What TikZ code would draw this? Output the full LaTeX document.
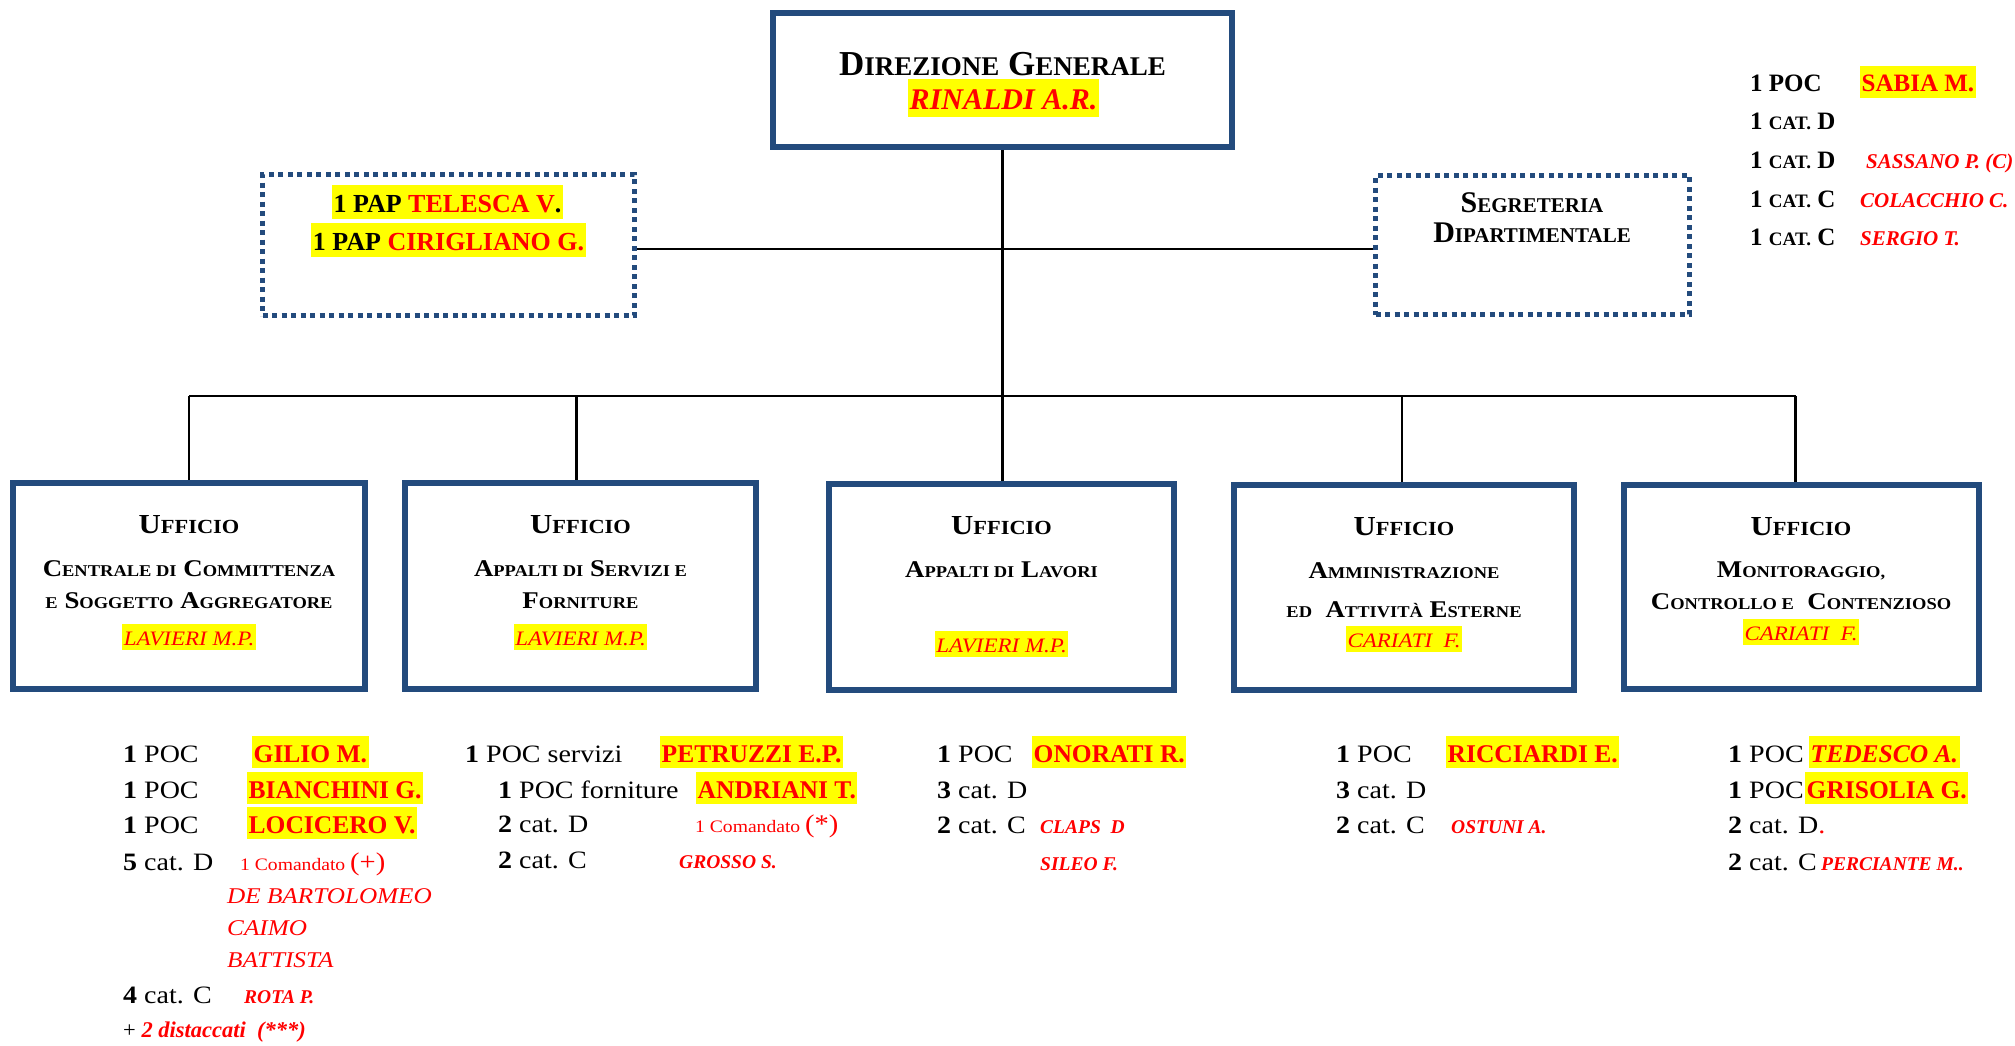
\documentclass[tikz,border=0pt]{standalone}
\usepackage{fontspec}
\usepackage{graphicx}
\setmainfont{Liberation Serif}
\newfontfamily\pal[FakeStretch=1.12]{Liberation Serif}
\definecolor{bord}{RGB}{35,75,125}
\definecolor{hly}{RGB}{255,255,0}
\definecolor{redc}{RGB}{255,0,0}
\pgfdeclarelayer{bgl}
\pgfsetlayers{bgl,main}
\newcommand\hl[1]{{\setlength\fboxsep{0pt}\colorbox{hly}{\kern1.5pt\rule[-0.25em]{0pt}{1.28em}#1\kern1.5pt}}}
\newcommand\rd[1]{\textcolor{redc}{#1}}
\newcommand\fsz[1]{\fontsize{#1}{#1}\selectfont}
\newcommand\smsz{16}
\newcommand\smc[1]{{\fontsize{\smsz}{\smsz}\selectfont #1}}
\newcommand\uff{{\renewcommand\smsz{20}\fsz{27.5}\pal\bfseries U\smc{FFICIO}}}
\newcommand\bodysc{\renewcommand\smsz{16.5}\fsz{24}\pal\bfseries}
\newcommand\li{\fsz{25}\pal}
\newcommand\nmb{\fsz{25.5}\bfseries}
\newcommand\nmi{\fsz{19.5}\bfseries\itshape}
\newcommand\catsc{\renewcommand\smsz{19}\fsz{25}\bfseries}
\begin{document}
\begin{tikzpicture}[x=1pt,y=-1pt,
  obox/.style={draw=bord,line width=6pt,rectangle,inner sep=0pt},
  dbox/.style={draw=bord,line width=5.5pt,dash pattern=on 5pt off 4.5pt,rectangle,inner sep=0pt},
  conn/.style={draw=black,line width=2.2pt},
  tc/.style={inner sep=0pt,anchor=base},
  tl/.style={inner sep=0pt,anchor=base west}]
\begin{pgfonlayer}{bgl}
\fill[white] (0,0) rectangle (2015,1046);
\end{pgfonlayer}
\useasboundingbox (0,0) rectangle (2015,1046);

% boxes
\node[obox,minimum width=459pt,minimum height=134pt] (dg) at (1002.5,80) {};
\node[dbox,minimum width=372pt,minimum height=141pt] (pap) at (448.5,245) {};
\node[dbox,minimum width=314pt,minimum height=139pt] (seg) at (1532.5,245) {};
\node[obox,minimum width=352pt,minimum height=206pt] (u1) at (189,586) {};
\node[obox,minimum width=351pt,minimum height=206pt] (u2) at (580.5,586) {};
\node[obox,minimum width=345pt,minimum height=206pt] (u3) at (1001.5,587) {};
\node[obox,minimum width=340pt,minimum height=205pt] (u4) at (1404,587.5) {};
\node[obox,minimum width=355pt,minimum height=204pt] (u5) at (1801.5,587) {};

% connectors
\coordinate (sideY) at (0,249);
\coordinate (busY) at (0,396);
\begin{pgfonlayer}{bgl}
\draw[conn] (dg.south) -- (dg.south |- u3.north);
\draw[conn] (pap.east |- sideY) -- (seg.west |- sideY);
\draw[conn] (u1.north |- busY) -- ([xshift=-6pt]u5.north |- busY);
\draw[conn] (u1.north |- busY) -- (u1.north);
\draw[conn] ([xshift=-4pt]u2.north |- busY) -- ([xshift=-4pt]u2.north);
\draw[conn] ([xshift=-2pt]u4.north |- busY) -- ([xshift=-2pt]u4.north);
\draw[conn] ([xshift=-6pt]u5.north |- busY) -- ([xshift=-6pt]u5.north);
\end{pgfonlayer}

% top box
\node[tc] (dgT) at (1002.5,76) {\renewcommand\smsz{27}\fsz{35}\bfseries D\smc{IREZIONE} G\smc{ENERALE}};
\node[tc] (dgN) at (1003.5,110) {\fsz{30}\bfseries\itshape\hl{\rd{RINALDI A.R.}}};

% PAP box
\node[tc] (pap1) at (447.5,212) {\fsz{26}\bfseries\hl{1 PAP \rd{TELESCA V}.}};
\node[tc] (pap2) at (448.5,250) {\fsz{26}\bfseries\hl{1 PAP \rd{CIRIGLIANO G.}}};

% Segreteria
\node[tc] (seg1) at (1532,212) {\renewcommand\smsz{21}\fsz{30}\bfseries S\smc{EGRETERIA}};
\node[tc] (seg2) at (1532,242) {\renewcommand\smsz{21}\fsz{30}\bfseries D\smc{IPARTIMENTALE}};

% top right list
\node[tl] (tr1) at (1750,92) {\fsz{25}\bfseries 1 POC};
\node[tl] (tr1n) at (1860,92) {\fsz{25}\bfseries\hl{\rd{SABIA M.}}};
\node[tl] (tr2) at (1750,130) {\catsc 1 \smc{CAT.} D};
\node[tl] (tr3) at (1750,168) {\catsc 1 \smc{CAT.} D};
\node[tl] (tr3n) at (1866,168) {\fsz{21}\bfseries\itshape\rd{SASSANO P. (C)}};
\node[tl] (tr4) at (1750,207) {\catsc 1 \smc{CAT.} C};
\node[tl] (tr4n) at (1860,207) {\fsz{21}\bfseries\itshape\rd{COLACCHIO C.}};
\node[tl] (tr5) at (1750,245) {\catsc 1 \smc{CAT.} C};
\node[tl] (tr5n) at (1860,245) {\fsz{21}\bfseries\itshape\rd{SERGIO T.}};

% office 1
\node[tc] (u1a) at (189,533) {\uff};
\node[tc] (u1b) at (189,576) {\bodysc C\smc{ENTRALE DI} C\smc{OMMITTENZA}};
\node[tc] (u1c) at (189,608) {\bodysc \smc{E} S\smc{OGGETTO} A\smc{GGREGATORE}};
\node[tc] (u1d) at (189,645) {\fsz{20.5}\pal\itshape\hl{\rd{LAVIERI M.P.}}};
% office 2
\node[tc] (u2a) at (580.5,533) {\uff};
\node[tc] (u2b) at (580.5,576) {\bodysc A\smc{PPALTI DI} S\smc{ERVIZI E}};
\node[tc] (u2c) at (580.5,608) {\bodysc F\smc{ORNITURE}};
\node[tc] (u2d) at (580.5,645) {\fsz{20.5}\pal\itshape\hl{\rd{LAVIERI M.P.}}};
% office 3
\node[tc] (u3a) at (1001.5,534) {\uff};
\node[tc] (u3b) at (1001.5,577) {\bodysc A\smc{PPALTI DI} L\smc{AVORI}};
\node[tc] (u3d) at (1001.5,652) {\fsz{20.5}\pal\itshape\hl{\rd{LAVIERI M.P.}}};
% office 4
\node[tc] (u4a) at (1404,535) {\uff};
\node[tc] (u4b) at (1404,578) {\bodysc A\smc{MMINISTRAZIONE}};
\node[tc] (u4c) at (1404,617) {\bodysc \smc{ED}\ \ A\smc{TTIVITÀ} E\smc{STERNE}};
\node[tc] (u4d) at (1404,647) {\fsz{20.5}\pal\itshape\hl{\rd{CARIATI\ \ F.}}};
% office 5
\node[tc] (u5a) at (1801,535) {\uff};
\node[tc] (u5b) at (1801,577) {\bodysc M\smc{ONITORAGGIO,}};
\node[tc] (u5c) at (1801,609) {\bodysc C\smc{ONTROLLO E}\ \ C\smc{ONTENZIOSO}};
\node[tc] (u5d) at (1801,640) {\fsz{20.5}\pal\itshape\hl{\rd{CARIATI\ \ F.}}};

% column 1
\node[tl] (c1r1) at (123,762) {\li\textbf{1} POC};
\node[tl] (c1n1) at (252,762) {\nmb\hl{\rd{GILIO M.}}};
\node[tl] (c1r2) at (123,798) {\li\textbf{1} POC};
\node[tl] (c1n2) at (247,798) {\nmb\hl{\rd{BIANCHINI G.}}};
\node[tl] (c1r3) at (123,833) {\li\textbf{1} POC};
\node[tl] (c1n3) at (247,833) {\nmb\hl{\rd{LOCICERO V.}}};
\node[tl] (c1r4) at (123,870) {\li\textbf{5} cat. D};
\node[tl] (c1n4) at (240,870) {\rd{\fsz{17.5}\pal 1 Comandato {\fsz{25.5}(+)}}};
\node[tl] (c1n5) at (227,903) {\fsz{22.5}\pal\itshape\rd{DE BARTOLOMEO}};
\node[tl] (c1n6) at (227,935) {\fsz{22.5}\pal\itshape\rd{CAIMO}};
\node[tl] (c1n7) at (227,967) {\fsz{22.5}\pal\itshape\rd{BATTISTA}};
\node[tl] (c1r8) at (123,1003) {\li\textbf{4} cat. C};
\node[tl] (c1n8) at (244,1003) {\nmi\rd{ROTA P.}};
\node[tl] (c1r9) at (123,1037) {\fsz{22.5}+ {\bfseries\itshape\rd{2 distaccati\ \ (***)}}};

% column 2
\node[tl] (c2r1) at (465,762) {\li\textbf{1} POC servizi};
\node[tl] (c2n1) at (660,762) {\nmb\hl{\rd{PETRUZZI E.P.}}};
\node[tl] (c2r2) at (498,798) {\li\textbf{1} POC forniture};
\node[tl] (c2n2) at (696,798) {\nmb\hl{\rd{ANDRIANI T.}}};
\node[tl] (c2r3) at (498,832) {\li\textbf{2} cat. D};
\node[tl] (c2n3) at (695,832) {\rd{\fsz{17.5}\pal 1 Comandato {\fsz{25.5}(*)}}};
\node[tl] (c2r4) at (498,868) {\li\textbf{2} cat. C};
\node[tl] (c2n4) at (679,868) {\nmi\rd{GROSSO S.}};

% column 3
\node[tl] (c3r1) at (937,762) {\li\textbf{1} POC};
\node[tl] (c3n1) at (1032,762) {\nmb\hl{\rd{ONORATI R.}}};
\node[tl] (c3r2) at (937,798) {\li\textbf{3} cat. D};
\node[tl] (c3r3) at (937,833) {\li\textbf{2} cat. C};
\node[tl] (c3n3) at (1040,833) {\nmi\rd{CLAPS\ \ D}};
\node[tl] (c3n4) at (1040,870) {\nmi\rd{SILEO F.}};

% column 4
\node[tl] (c4r1) at (1336,762) {\li\textbf{1} POC};
\node[tl] (c4n1) at (1446,762) {\nmb\hl{\rd{RICCIARDI E.}}};
\node[tl] (c4r2) at (1336,798) {\li\textbf{3} cat. D};
\node[tl] (c4r3) at (1336,833) {\li\textbf{2} cat. C};
\node[tl] (c4n3) at (1451,833) {\nmi\rd{OSTUNI A.}};

% column 5
\node[tl] (c5r1) at (1728,762) {\li\textbf{1} POC};
\node[tl] (c5n1) at (1809,762) {\nmb\itshape\hl{\rd{TEDESCO A.}}};
\node[tl] (c5r2) at (1728,798) {\li\textbf{1} POC};
\node[tl] (c5n2) at (1805,798) {\nmb\hl{\rd{GRISOLIA G.}}};
\node[tl] (c5r3) at (1728,833) {\li\textbf{2} cat. D\rd{.}};
\node[tl] (c5r4) at (1728,870) {\li\textbf{2} cat. C};
\node[tl] (c5n4) at (1821,870) {\nmi\rd{PERCIANTE M..}};
\end{tikzpicture}
\end{document}
